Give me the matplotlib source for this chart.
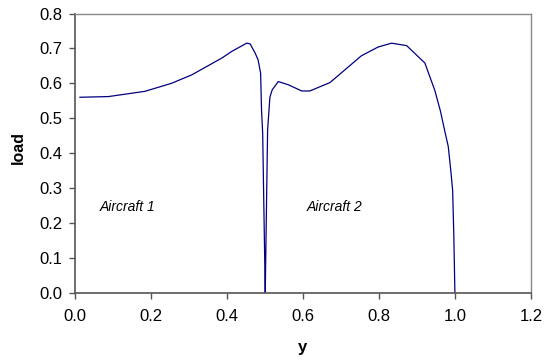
import matplotlib
matplotlib.use("Agg")
import matplotlib.pyplot as plt
import numpy as np

plt.rcParams['font.family'] = ['Liberation Sans', 'DejaVu Sans']

# spanwise load, two aircraft in formation
y = [0.013, 0.088, 0.184, 0.254, 0.307, 0.386, 0.412, 0.452, 0.461, 0.474, 0.482,
     0.4886, 0.491, 0.494, 0.5008,
     0.502, 0.507, 0.513, 0.519, 0.535, 0.561, 0.597, 0.618, 0.671, 0.754, 0.798,
     0.833, 0.873, 0.921, 0.947, 0.962, 0.974, 0.9825, 0.989, 0.994, 0.997, 1.0]
load = [0.560, 0.562, 0.577, 0.600, 0.624, 0.672, 0.691, 0.715, 0.713, 0.687, 0.667,
        0.629, 0.524, 0.457, 0.0,
        0.094, 0.466, 0.560, 0.581, 0.605, 0.596, 0.578, 0.578, 0.602, 0.679, 0.704,
        0.715, 0.708, 0.658, 0.580, 0.520, 0.460, 0.419, 0.352, 0.294, 0.171, 0.0]

labels = ["Aircraft 1", "Aircraft 2"]
label_x = [0.066, 0.61]
label_y = [0.246, 0.247]

fig = plt.figure(figsize=(5.49, 3.62), dpi=100)
ax = fig.add_axes([0.1366, 0.1914, 0.8304, 0.7713])

ax.plot(y, load, color='#000080', lw=0.9)

for t, lx, ly in zip(labels, label_x, label_y):
    ax.text(lx, ly, t, fontsize=10, style='italic', va='center', ha='left')

ax.set_xlim(0, 1.2)
ax.set_ylim(0, 0.8)
ax.set_xticks(np.arange(0, 1.21, 0.2))
ax.set_yticks(np.arange(0, 0.81, 0.1))
ax.xaxis.set_major_formatter(matplotlib.ticker.FormatStrFormatter('%.1f'))
ax.yaxis.set_major_formatter(matplotlib.ticker.FormatStrFormatter('%.1f'))
ax.tick_params(labelsize=12, direction='out', length=4, width=1, color='#555555')
ax.tick_params(axis='x', pad=8)
ax.tick_params(axis='y', pad=5)
ax.set_xlabel('y', fontsize=12, fontweight='bold')
ax.set_ylabel('load', fontsize=11.5, fontweight='bold')
ax.xaxis.set_label_coords(0.5, -0.17)
ax.yaxis.set_label_coords(-0.107, 0.52)

for s in ['top', 'right']:
    ax.spines[s].set_color('#888888')
    ax.spines[s].set_linewidth(1)
for s in ['left', 'bottom']:
    ax.spines[s].set_color('#555555')
    ax.spines[s].set_linewidth(1.2)

fig.savefig('out.png', dpi=100)
